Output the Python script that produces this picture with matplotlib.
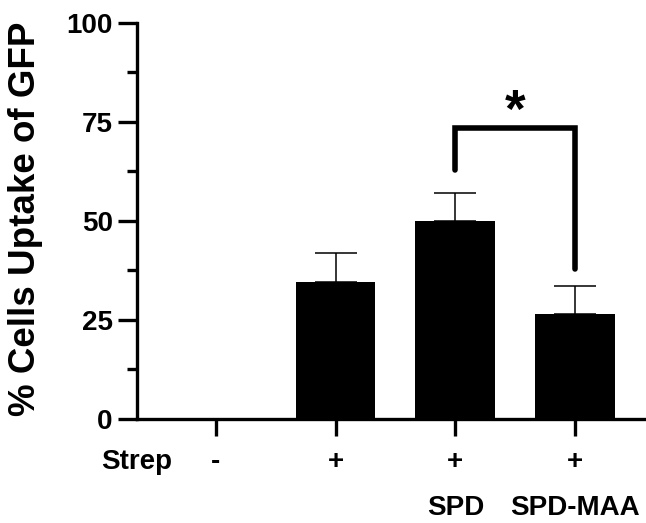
import matplotlib
matplotlib.use("Agg")
import matplotlib.pyplot as plt
import matplotlib.transforms as mtransforms

plt.rcParams["font.family"] = ["Liberation Sans", "DejaVu Sans"]
plt.rcParams["font.weight"] = "bold"
plt.rcParams["axes.labelweight"] = "bold"

strep_labels = ["-", "+", "+", "+"]
group_labels = ["", "", "SPD", "SPD-MAA"]
means = [0.0, 34.5, 50.0, 26.4]
errors = [0.0, 7.3, 7.0, 7.2]
y_ticks = [0, 25, 50, 75, 100]
y_minor = [12.5, 37.5, 62.5, 87.5]

# significance bracket between SPD and SPD-MAA
sig_pair = (2, 3)
sig_top = 73.5
sig_ends = (62.7, 37.9)
sig_label = "*"


def plot_uptake():
    fig = plt.figure(figsize=(6.46, 5.23), dpi=100)
    ax = fig.add_axes([0.212, 0.199, 0.788, 0.7577])

    x = list(range(len(means)))
    ax.bar(x, means, width=0.666, color="black", zorder=2)
    ax.errorbar(
        x[1:], means[1:], yerr=[[0] * (len(means) - 1), errors[1:]],
        fmt="none", ecolor="black", elinewidth=1.1, capsize=14.8,
        capthick=1.1, zorder=1,
    )

    ax.set_xlim(-0.66, 3.593)
    ax.set_ylim(0, 100)
    ax.set_yticks(y_ticks)
    ax.set_yticks(y_minor, minor=True)
    ax.set_xticks(x)
    ax.set_xticklabels(strep_labels)

    for side in ["top", "right"]:
        ax.spines[side].set_visible(False)
    for side in ["left", "bottom"]:
        ax.spines[side].set_linewidth(2.4)

    ax.tick_params(axis="y", which="major", length=14, width=2.4,
                   labelsize=20, pad=3.5)
    ax.tick_params(axis="y", which="minor", length=7, width=2.4)
    ax.tick_params(axis="x", which="major", length=12, width=2.4,
                   labelsize=20, pad=10)

    ax.set_ylabel("% Cells Uptake of GFP", fontsize=26.5, fontweight="bold")
    ax.yaxis.label.set_va("center")
    ax.yaxis.set_label_coords(-0.218, 0.505)

    trans = mtransforms.blended_transform_factory(ax.transData, ax.transAxes)
    ax.text(-0.66, -0.108, "Strep", transform=trans, ha="center", va="center",
            fontsize=20)
    for xi, lab in zip(x, group_labels):
        if lab:
            ax.text(xi, -0.224, lab, transform=trans, ha="center",
                    va="center", fontsize=20)

    # bracket
    x0, x1 = sig_pair
    ax.plot([x0, x0, x1, x1], [sig_ends[0], sig_top, sig_top, sig_ends[1]],
            color="black", lw=4, solid_capstyle="round",
            solid_joinstyle="miter", clip_on=False)
    ax.text((x0 + x1) / 2, sig_top - 2.5, sig_label, ha="center", va="bottom",
            fontsize=38)

    fig.savefig("out.png", dpi=100)


if __name__ == "__main__":
    plot_uptake()
